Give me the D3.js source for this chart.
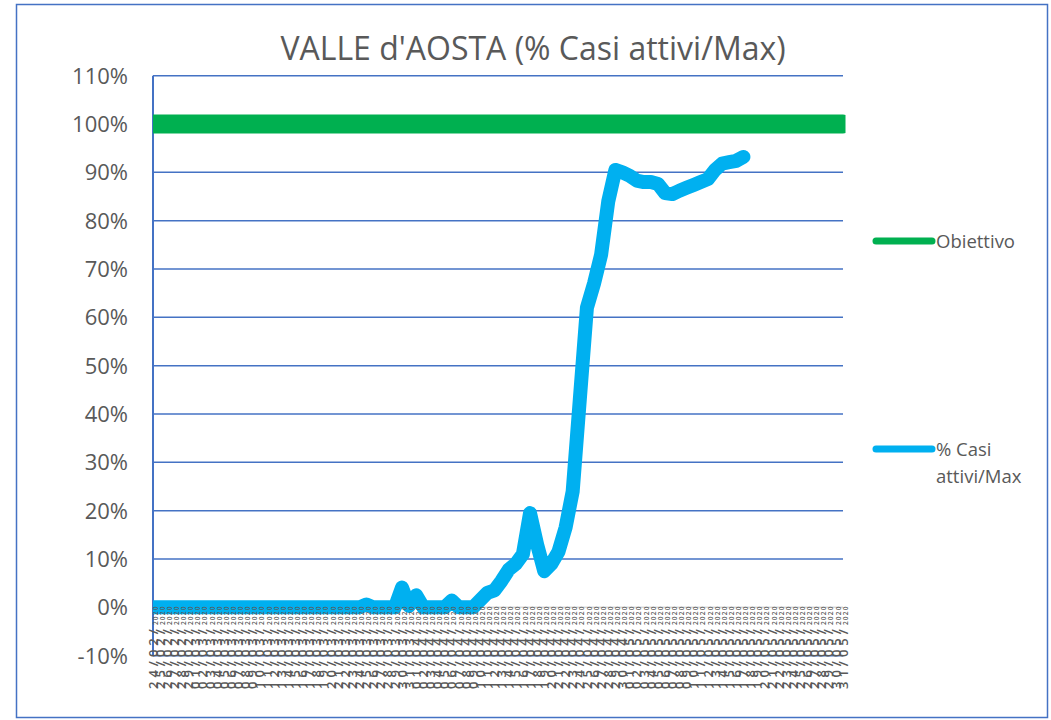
<!DOCTYPE html>
<html>
<head>
<meta charset="utf-8">
<script src="https://cdn.jsdelivr.net/npm/d3@7"></script>
<style>
  body { margin: 0; background: #fff; }
  svg { display: block; font-family: "Open Sans", sans-serif; }
</style>
</head>
<body>
<div id="chart"></div>
<script>
// categories: every day from 24/02/2020 to 31/05/2020
const categories = d3.timeDay.range(new Date(2020, 1, 24), new Date(2020, 5, 1))
  .map(d3.timeFormat("%d/%m/%Y"));

// % casi attivi / max, from 24/02 to 17/05
const casiAttivi = [
  0, 0, 0, 0, 0, 0, 0, 0, 0, 0,
  0, 0, 0, 0, 0, 0, 0, 0, 0, 0,
  0, 0, 0, 0, 0, 0, 0, 0, 0, 0,
  0.6, 0, 0, 0, 0, 4.1, 0.3, 2.5, 0, 0,
  0, 0, 1.4, 0, 0, 0, 1.5, 3, 3.5, 5.5,
  7.8, 9, 11, 19.5, 13, 7.5, 9, 11.5, 16.5, 24,
  43, 62, 67, 73, 84, 90.5, 90, 89.3, 88.3, 88,
  88, 87.6, 85.7, 85.5, 86.2, 86.8, 87.4, 88, 88.6, 90.5,
  91.8, 92.1, 92.4, 93.2
];
const obiettivo = 100;
const yTicks = [-10, 0, 10, 20, 30, 40, 50, 60, 70, 80, 90, 100, 110];
const seriesNames = ["Obiettivo", "% Casi attivi/Max"];
const title = "VALLE d'AOSTA (% Casi attivi/Max)";

const width = 1051, height = 720;
const plot = { left: 153, right: 843, top: 75.7, bottom: 655.7 };
const blue = "#4472C4", grey = "#595959";
const green = "#00B050", cyan = "#00B0F0";

const svg = d3.select("#chart").append("svg")
  .attr("width", width)
  .attr("height", height);

svg.append("rect")
  .attr("x", 16.5).attr("y", 4.5)
  .attr("width", 1031).attr("height", 713)
  .attr("fill", "#fff")
  .attr("stroke", blue)
  .attr("stroke-width", 1.5);

const x = d3.scalePoint().domain(categories).range([plot.left, plot.right]);
const y = d3.scaleLinear().domain([-10, 110]).range([plot.bottom, plot.top]);

svg.append("text")
  .attr("x", 533).attr("y", 60)
  .attr("text-anchor", "middle")
  .attr("font-size", 32)
  .attr("fill", grey)
  .text(title);

// gridlines
svg.append("g").selectAll("line")
  .data(yTicks)
  .enter()
  .append("line")
  .attr("x1", plot.left).attr("x2", plot.right)
  .attr("y1", d => y(d)).attr("y2", d => y(d))
  .attr("stroke", d => d === 0 ? "#D9D9D9" : blue)
  .attr("stroke-width", 1.5);

svg.append("line")
  .attr("x1", plot.left).attr("x2", plot.left)
  .attr("y1", plot.top).attr("y2", plot.bottom)
  .attr("stroke", blue)
  .attr("stroke-width", 2);

// y tick labels
svg.append("g").selectAll("text")
  .data(yTicks)
  .enter()
  .append("text")
  .attr("x", 128)
  .attr("y", d => y(d))
  .attr("dy", "0.36em")
  .attr("text-anchor", "end")
  .attr("font-size", 22)
  .attr("fill", grey)
  .text(d => d + "%");

svg.append("clipPath").attr("id", "plot-clip")
  .append("rect")
  .attr("x", plot.left).attr("y", plot.top - 20)
  .attr("width", plot.right - plot.left + 2.5)
  .attr("height", plot.bottom - plot.top + 40);

const lines = svg.append("g").attr("clip-path", "url(#plot-clip)");

lines.append("path")
  .datum(categories)
  .attr("d", d3.line().x(d => x(d)).y(() => y(obiettivo)))
  .attr("fill", "none")
  .attr("stroke", green)
  .attr("stroke-width", 19)
  .attr("stroke-linecap", "round");

lines.append("path")
  .datum(casiAttivi)
  .attr("d", d3.line().x((d, i) => x(categories[i])).y(d => y(d)))
  .attr("fill", "none")
  .attr("stroke", cyan)
  .attr("stroke-width", 14)
  .attr("stroke-linejoin", "round")
  .attr("stroke-linecap", "round");

// category labels, crowded and rotated
const labels = svg.append("g").selectAll("text")
  .data(categories)
  .enter()
  .append("text")
  .attr("transform", d => `translate(${x(d)},689) rotate(-90)`)
  .attr("dy", "0.36em")
  .attr("font-size", 13)
  .attr("font-weight", 600)
  .attr("letter-spacing", 4)
  .attr("fill", grey);
labels.append("tspan").text(d => d.slice(0, 6));
labels.append("tspan")
  .attr("font-size", 6.5)
  .attr("letter-spacing", 1.2)
  .text(d => d.slice(6));

// legend
const legend = svg.append("g");
[[seriesNames[0], green, 241], [seriesNames[1], cyan, 449]].forEach(([name, color, ly]) => {
  legend.append("line")
    .attr("x1", 876).attr("x2", 932)
    .attr("y1", ly).attr("y2", ly)
    .attr("stroke", color)
    .attr("stroke-width", 7)
    .attr("stroke-linecap", "round");
  const words = name === seriesNames[1] ? ["% Casi", "attivi/Max"] : [name];
  words.forEach((w, k) => {
    legend.append("text")
      .attr("x", 936).attr("y", ly + k * 27)
      .attr("dy", "0.36em")
      .attr("font-size", 18.5)
      .attr("fill", grey)
      .text(w);
  });
});
</script>
</body>
</html>
